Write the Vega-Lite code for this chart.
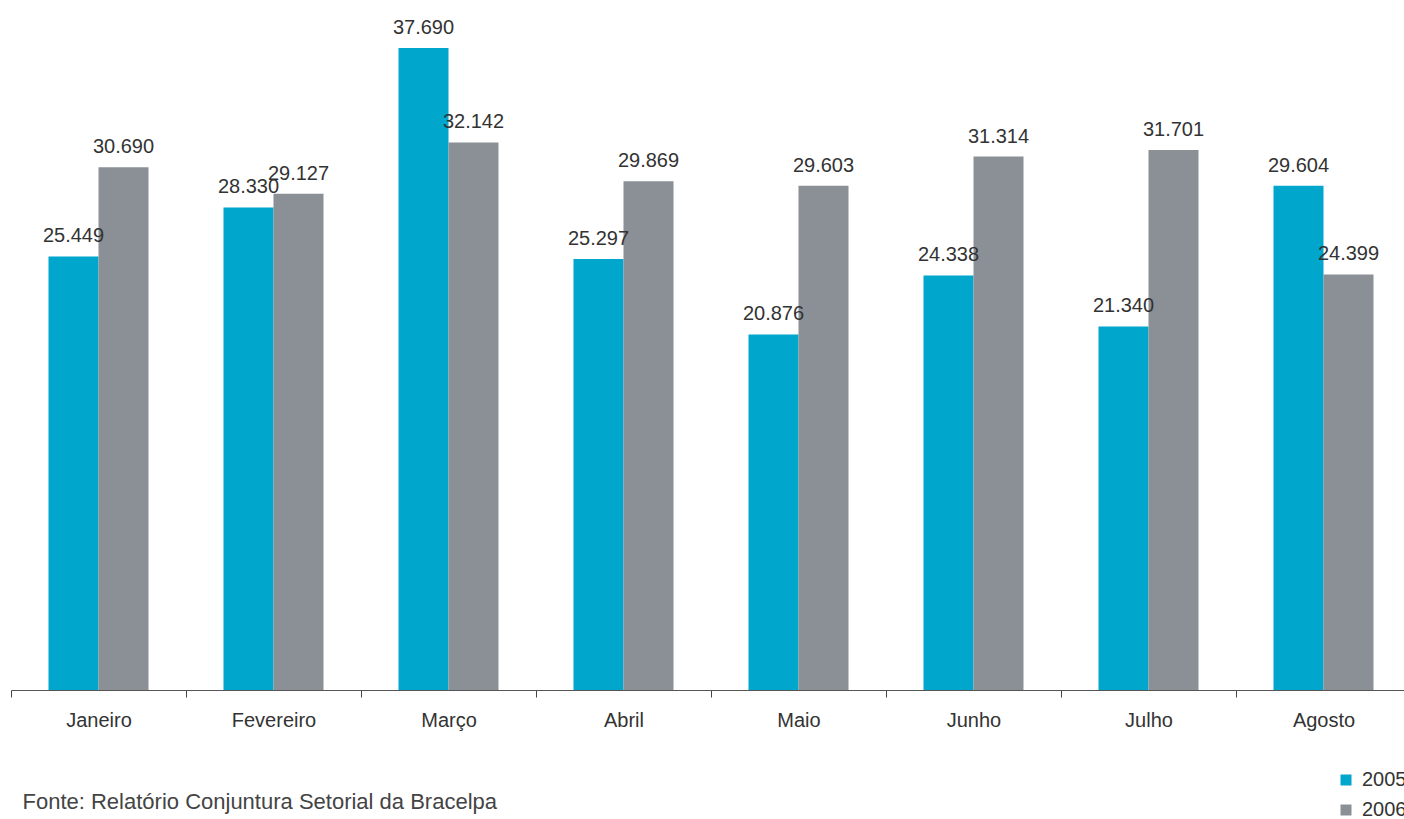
{
  "$schema": "https://vega.github.io/schema/vega-lite/v6.json",
  "width": 1400,
  "height": 690,
  "autosize": "none",
  "padding": {"left": 11, "top": 0, "right": 0, "bottom": 129},
  "background": "white",
  "config": {
    "view": {"stroke": null},
    "font": "Liberation Sans",
    "locale": {"number": {"decimal": ",", "thousands": ".", "grouping": [3], "currency": ["R$", ""]}}
  },
  "data": {
    "values": [
      {"mes": "Janeiro", "ano": "2005", "valor": 25449},
      {"mes": "Janeiro", "ano": "2006", "valor": 30690},
      {"mes": "Fevereiro", "ano": "2005", "valor": 28330},
      {"mes": "Fevereiro", "ano": "2006", "valor": 29127},
      {"mes": "Março", "ano": "2005", "valor": 37690},
      {"mes": "Março", "ano": "2006", "valor": 32142},
      {"mes": "Abril", "ano": "2005", "valor": 25297},
      {"mes": "Abril", "ano": "2006", "valor": 29869},
      {"mes": "Maio", "ano": "2005", "valor": 20876},
      {"mes": "Maio", "ano": "2006", "valor": 29603},
      {"mes": "Junho", "ano": "2005", "valor": 24338},
      {"mes": "Junho", "ano": "2006", "valor": 31314},
      {"mes": "Julho", "ano": "2005", "valor": 21340},
      {"mes": "Julho", "ano": "2006", "valor": 31701},
      {"mes": "Agosto", "ano": "2005", "valor": 29604},
      {"mes": "Agosto", "ano": "2006", "valor": 24399}
    ]
  },
  "encoding": {
    "x": {
      "field": "mes",
      "type": "nominal",
      "sort": ["Janeiro", "Fevereiro", "Março", "Abril", "Maio", "Junho", "Julho", "Agosto"],
      "scale": {"paddingInner": 0, "paddingOuter": 0},
      "axis": {
        "title": "Fonte: Relatório Conjuntura Setorial da Bracelpa",
        "titleAnchor": "start",
        "titleAlign": "left",
        "titleX": 11,
        "titlePadding": 61,
        "titleFontSize": 22,
        "titleFontWeight": "normal",
        "titleColor": "#444444",
        "titleFont": "Liberation Sans",
        "labelAngle": 0,
        "tickBand": "extent",
        "tickSize": 7,
        "tickColor": "#444444",
        "domainColor": "#555555",
        "labelFontSize": 20,
        "labelColor": "#333333",
        "labelPadding": 13,
        "labelFont": "Liberation Sans"
      }
    },
    "xOffset": {
      "field": "ano",
      "type": "nominal",
      "scale": {"paddingInner": 0, "paddingOuter": 0.75}
    },
    "y": {
      "field": "valor",
      "type": "quantitative",
      "scale": {"domain": [0, 40507], "nice": false, "zero": true},
      "axis": null
    }
  },
  "layer": [
    {
      "mark": {"type": "bar"},
      "encoding": {
        "color": {
          "field": "ano",
          "type": "nominal",
          "scale": {"domain": ["2005", "2006"], "range": ["#00A6CB", "#8A9096"]},
          "legend": {
            "title": null,
            "orient": "none",
            "legendX": 1325,
            "legendY": 770,
            "symbolType": "square",
            "symbolSize": 121,
            "symbolStrokeWidth": 0,
            "labelFontSize": 20,
            "labelColor": "#333333",
            "labelFont": "Liberation Sans",
            "rowPadding": 10,
            "labelOffset": 6
          }
        }
      }
    },
    {
      "mark": {"type": "text", "baseline": "bottom", "dy": -10, "fontSize": 20, "color": "#333333", "font": "Liberation Sans"},
      "encoding": {
        "text": {"field": "valor", "type": "quantitative", "format": ",d"}
      }
    }
  ]
}
